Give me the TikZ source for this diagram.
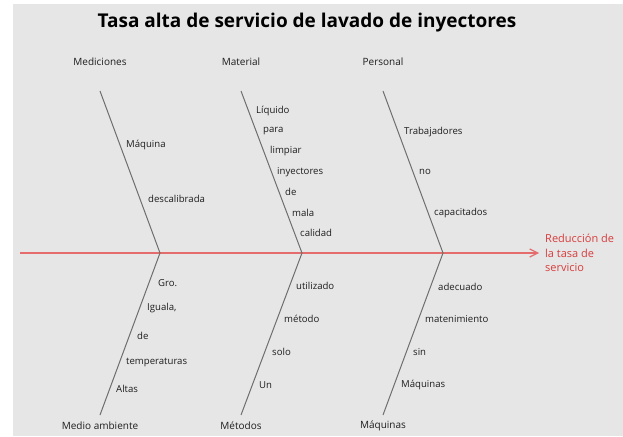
\documentclass[tikz,border=0pt]{standalone}
\usepackage{fontspec}
\setmainfont{Open Sans}
\usetikzlibrary{arrows.meta}
\definecolor{bggray}{HTML}{E6E6E6}
\definecolor{spinered}{HTML}{E46C6C}
\definecolor{effred}{HTML}{D83C3C}
\definecolor{bonegray}{HTML}{6E6E6E}
\definecolor{txt}{HTML}{1E1E1E}
\tikzset{
  bone/.style={draw=bonegray, line width=1pt},
  spine/.style={draw=spinered, line width=1.4pt, -{Straight Barb[length=8pt,width=8pt,line width=1.2pt]}},
  cause/.style={anchor=west, inner sep=0pt, font=\fontsize{9.6}{11}\selectfont, text=txt},
  cat/.style={anchor=center, inner sep=0pt, font=\fontsize{10}{12}\selectfont, text=txt},
  ttl/.style={anchor=center, inner sep=0pt, font=\fontsize{19}{22}\selectfont\bfseries, text=black},
  eff/.style={anchor=west, inner sep=0pt, align=left, font=\fontsize{11}{14.5}\selectfont, text=effred}
}
\begin{document}
\begin{tikzpicture}[x=1pt,y=-1pt]
\useasboundingbox (0,0) rectangle (623,436);
\fill[white] (0,0) rectangle (623,436);
\fill[bggray] (13,4) rectangle (623,436);
% title
\node[ttl] (title) at (307,23) {Tasa alta de servicio de lavado de inyectores};
% spine
\coordinate (tail) at (20,253);
\coordinate (head) at (539,253);
\coordinate (j1) at (160,253);
\coordinate (j2) at (302,253);
\coordinate (j3) at (443,253);
\draw[spine] (tail) -- (head);
% upper bone tops
\coordinate (u1) at (100,91);
\coordinate (u2) at (241,91);
\coordinate (u3) at (383,91);
% lower bone ends
\coordinate (d1) at (100,415);
\coordinate (d2) at (241,415);
\coordinate (d3) at (383,415);
\draw[bone] (u1) -- (j1) -- (d1);
\draw[bone] (u2) -- (j2) -- (d2);
\draw[bone] (u3) -- (j3) -- (d3);
% category labels
\node[cat] (cMed) at (100,62) {Mediciones};
\node[cat] (cMat) at (241,62) {Material};
\node[cat] (cPer) at (383,62) {Personal};
\node[cat] (cAmb) at (100,426) {Medio ambiente};
\node[cat] (cMet) at (241,426) {Métodos};
\node[cat] (cMaq) at (383,426) {Máquinas};
% effect
\node[eff] (effect) at (545,253) {Reducción de\\la tasa de\\servicio};
% Mediciones causes
\node[cause] (m1) at (126,145) {Máquina};
\node[cause] (m2) at (148,199) {descalibrada};
% Material causes
\node[cause] (a1) at (256,111) {Líquido};
\node[cause] (a2) at (263,131) {para};
\node[cause] (a3) at (270,151) {limpiar};
\node[cause] (a4) at (277,172) {inyectores};
\node[cause] (a5) at (285,192) {de};
\node[cause] (a6) at (292,213) {mala};
\node[cause] (a7) at (300,233) {calidad};
% Personal causes
\node[cause] (p1) at (404,132) {Trabajadores};
\node[cause] (p2) at (419,172) {no};
\node[cause] (p3) at (434,213) {capacitados};
% Medio ambiente causes
\node[cause] (e1) at (158,283) {Gro.};
\node[cause] (e2) at (147,308) {Iguala,};
\node[cause] (e3) at (137,336) {de};
\node[cause] (e4) at (126,362) {temperaturas};
\node[cause] (e5) at (116,389) {Altas};
% Métodos causes
\node[cause] (t1) at (296,286) {utilizado};
\node[cause] (t2) at (284,319) {método};
\node[cause] (t3) at (272,352) {solo};
\node[cause] (t4) at (259,385) {Un};
% Máquinas causes
\node[cause] (q1) at (438,287) {adecuado};
\node[cause] (q2) at (425,319) {matenimiento};
\node[cause] (q3) at (413,352) {sin};
\node[cause] (q4) at (401,385) {Máquinas};
\end{tikzpicture}
\end{document}
